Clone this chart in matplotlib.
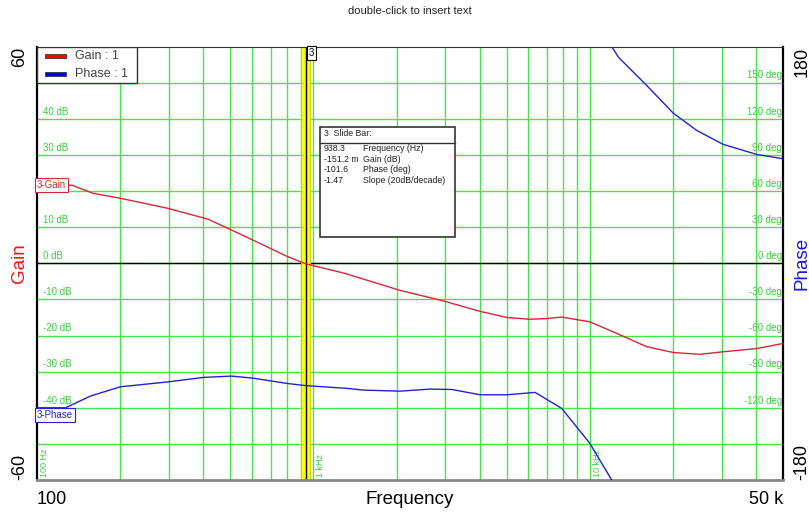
import numpy as np
import matplotlib
matplotlib.use('Agg')
import matplotlib.pyplot as plt
from matplotlib.patches import Rectangle

plt.rcParams['font.family'] = ['Liberation Sans', 'DejaVu Sans']

# Bode data
gain_freq = [100, 134, 159, 200, 298, 416, 499, 605, 708, 803, 938.3, 1300, 2057, 2944,
             4006, 5005, 6076, 6985, 7912, 10000, 12510, 16070, 20050, 24950, 30400, 40170, 50000]
gain_db = [22.1, 21.6, 19.4, 18.0, 15.2, 12.2, 9.4, 6.4, 3.9, 1.9, -0.15, -2.8, -7.5, -10.4,
           -13.3, -15.0, -15.5, -15.3, -14.9, -16.2, -19.4, -23.1, -24.7, -25.2, -24.5, -23.6, -22.2]

phase_freq = [100, 113, 127, 156, 200, 298, 399, 506, 605, 803, 938.3, 1325, 1512, 2057, 2642,
              3166, 4006, 5005, 6076, 6335, 7912, 10000, 12000, 12690, 16070, 20050, 24370,
              30400, 40170, 50000]
phase_deg = [-120, -120, -120, -110.3, -102.6, -98.5, -94.8, -93.7, -95.4, -99.8, -101.6, -103.9,
             -105.3, -106.2, -104.5, -104.8, -109.2, -109.2, -107.6, -107.2, -120.5, -149.5, -180,
             -188.9, -212.4, -235.4, -249.7, -261.3, -269.6, -273.2]

slider_freq = 938.3
slider_lines = [('938.3', 'Frequency (Hz)'),
                ('-151.2 m', 'Gain (dB)'),
                ('-101.6', 'Phase (deg)'),
                ('-1.47', 'Slope (20dB/decade)')]

gain_labels = [40, 30, 10, 0, -10, -20, -30, -40]
phase_labels = [150, 120, 90, 60, 30, 0, -30, -60, -90, -120]
freq_labels = [(100, '100 Hz'), (1000, '1 kHz'), (10000, '10 kHz')]

grid_green = '#46e646'
text_green = '#3ccc3c'
gain_col = '#d8263a'
phase_col = '#2222cc'

fig = plt.figure(figsize=(8.09, 5.14), dpi=100)
ax = fig.add_axes([0.0457, 0.0661, 0.9222, 0.8434])
ax.set_xscale('log')
ax.set_xlim(100, 50000)
ax.set_ylim(-60, 60)

xgrid = [m * d for d in (100, 1000, 10000) for m in range(2, 10) if m * d < 50000] + [1000, 10000]
ax.set_xticks(sorted(xgrid))
ax.set_xticks([], minor=True)
ax.set_yticks(np.arange(-50, 60, 10))
ax.grid(True, color=grid_green, linewidth=1)
ax.tick_params(length=0, labelbottom=False, labelleft=False)
ax.axhline(0, color='black', linewidth=1, zorder=2)

for side in ('left', 'right'):
    ax.spines[side].set_linewidth(1.6)
    ax.spines[side].set_color('black')
ax.spines['top'].set_color('#333333')
ax.spines['bottom'].set_color('#888888')
ax.spines['bottom'].set_linewidth(2)

# slider bar
ax.axvspan(slider_freq * 10 ** -0.016, slider_freq * 10 ** 0.016, facecolor='#ffff00',
           edgecolor='#c8c800', linewidth=0.6, zorder=2.2)
ax.axvline(slider_freq, color='black', linewidth=1.0, zorder=2.5)
ax.text(slider_freq * 10 ** 0.011, 59.6, '3', fontsize=7, ha='left', va='top', zorder=6,
        bbox=dict(boxstyle='square,pad=0.2', fc='white', ec='black', lw=0.8))

ax.plot(gain_freq, gain_db, color=gain_col, linewidth=1, zorder=3)

ax2 = ax.twinx()
ax2.set_ylim(-180, 180)
ax2.set_yticks([])
ax2.tick_params(length=0)
for s in ax2.spines.values():
    s.set_visible(False)

f = np.array(phase_freq)
p = np.array(phase_deg)
low = p >= -180
ax2.plot(f[low], p[low], color=phase_col, linewidth=1, zorder=3)
first_hi = np.argmax(~low)
ax2.plot(f[first_hi - 1:], p[first_hi - 1:] + 360, color=phase_col, linewidth=1, zorder=3)

# green in-plot labels
for v in gain_labels:
    ax.text(105, v + 0.6, f'{v} dB', color=text_green, fontsize=7, ha='left', va='bottom', zorder=2)
for v in phase_labels:
    ax2.text(49500, v + 1.8, f'{v} deg', color=text_green, fontsize=7, ha='right', va='bottom', zorder=2)
for fr, lab in freq_labels:
    ax.text(fr * 1.025, -59.3, lab, color=text_green, fontsize=6.5, rotation=90,
            ha='left', va='bottom', zorder=2)

# curve tags
ax.text(100, gain_db[0] - 0.4, '3-Gain', color=gain_col, fontsize=7, ha='left', va='center', zorder=6,
        bbox=dict(boxstyle='square,pad=0.2', fc='white', ec=gain_col, lw=0.8))
ax2.text(100, phase_deg[0] - 2, '3-Phase', color=phase_col, fontsize=7, ha='left', va='top', zorder=6,
         bbox=dict(boxstyle='square,pad=0.2', fc='white', ec=phase_col, lw=0.8))

# legend box
ax2.add_patch(Rectangle((0, 0.916), 0.134, 0.084, transform=ax2.transAxes,
                        fc='white', ec='#333333', lw=1, zorder=7))
for yc, col, lab in [(0.978, 'red', 'Gain : 1'), (0.9366, 'blue', 'Phase : 1')]:
    ax2.add_patch(Rectangle((0.0107, yc - 0.0046), 0.0282, 0.0092, transform=ax2.transAxes,
                            fc=col, ec='#222222', lw=0.5, zorder=8))
    ax2.text(0.051, yc, lab, transform=ax2.transAxes, fontsize=9, color='#444444',
             ha='left', va='center', zorder=8)

# slide bar info box
bx0, bx1, by0, by1 = 0.3794, 0.5603, 0.561, 0.8145
ax2.add_patch(Rectangle((bx0, by0), bx1 - bx0, by1 - by0, transform=ax2.transAxes,
                        fc='white', ec='#333333', lw=1.2, zorder=7))
ax2.plot([bx0, bx1], [0.7777, 0.7777], transform=ax2.transAxes, color='#333333', lw=1, zorder=8)
ax2.text(bx0 + 0.005, 0.7985, '3  Slide Bar:', transform=ax2.transAxes, fontsize=6.3,
         color='#222222', ha='left', va='center', zorder=8)
for i, (val, name) in enumerate(slider_lines):
    yy = 0.764 - i * 0.0242
    ax2.text(bx0 + 0.005, yy, val, transform=ax2.transAxes, fontsize=6.3, color='#222222',
             ha='left', va='center', zorder=8)
    ax2.text(bx0 + 0.057, yy, name, transform=ax2.transAxes, fontsize=6.3, color='#222222',
             ha='left', va='center', zorder=8)

# outer axis texts
ax.text(-0.0228, 1.0, '60', transform=ax.transAxes, rotation=90, fontsize=13, ha='center', va='top')
ax.text(-0.0228, 0.0, '-60', transform=ax.transAxes, rotation=90, fontsize=13, ha='center', va='bottom')
ax.text(-0.0228, 0.5, 'Gain', transform=ax.transAxes, rotation=90, fontsize=13.5, color='#e8141b',
        ha='center', va='center')
ax.text(1.0255, 1.0, '180', transform=ax.transAxes, rotation=90, fontsize=13, ha='center', va='top')
ax.text(1.0255, 0.0, '-180', transform=ax.transAxes, rotation=90, fontsize=13, ha='center', va='bottom')
ax.text(1.0255, 0.5, 'Phase', transform=ax.transAxes, rotation=90, fontsize=13.5, color='#1414e6',
        ha='center', va='center')
ax.text(0.0, -0.044, '100', transform=ax.transAxes, fontsize=13, ha='left', va='center')
ax.text(0.5, -0.044, 'Frequency', transform=ax.transAxes, fontsize=13.5, ha='center', va='center')
ax.text(1.0, -0.044, '50 k', transform=ax.transAxes, fontsize=13, ha='right', va='center')

fig.text(0.507, 0.979, 'double-click to insert text', fontsize=8, color='#222222',
         ha='center', va='center')

fig.savefig('out.png', dpi=100)
